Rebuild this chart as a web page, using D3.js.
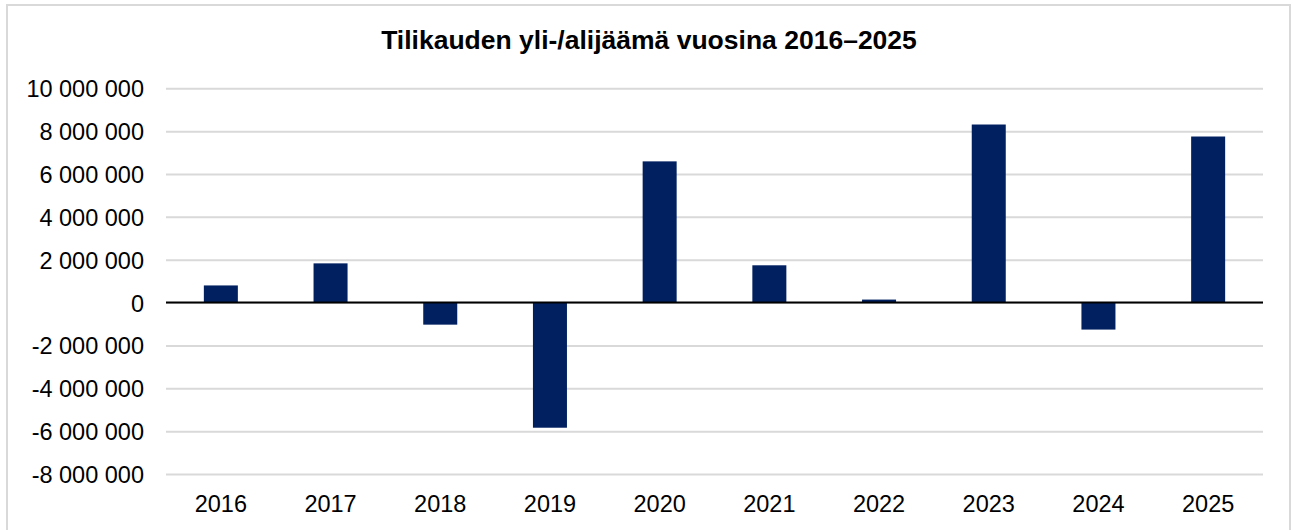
<!DOCTYPE html>
<html>
<head>
<meta charset="utf-8">
<script src="https://cdn.jsdelivr.net/npm/d3@7"></script>
<style>
  html, body { margin: 0; padding: 0; background: #fff; }
  svg { display: block; font-family: "Liberation Sans", Arial, sans-serif; }
</style>
</head>
<body>
<svg></svg>
<script>
// values
var years = ["2016", "2017", "2018", "2019", "2020", "2021", "2022", "2023", "2024", "2025"];
var surplus = [800000, 1830000, -1030000, -5840000, 6590000, 1740000, 140000, 8310000, -1260000, 7750000];
var yTicks = [-8000000, -6000000, -4000000, -2000000, 0, 2000000, 4000000, 6000000, 8000000, 10000000];
var title = "Tilikauden yli-/alijäämä vuosina 2016–2025";

var W = 1294, H = 530;
var plot = {left: 166, right: 1263, top: 88.3, bottom: 474};

var fi = d3.formatLocale({decimal: ",", thousands: "\u00a0", grouping: [3], currency: ["", " €"], minus: "-"});
var fmt = fi.format(",");

var svg = d3.select("svg").attr("width", W).attr("height", H);

// chart area border
svg.append("rect")
  .attr("x", 7).attr("y", 5)
  .attr("width", 1283).attr("height", 540)
  .attr("fill", "#fff")
  .attr("stroke", "#d9d9d9")
  .attr("stroke-width", 2);

svg.append("text")
  .attr("x", 649).attr("y", 49)
  .attr("text-anchor", "middle")
  .attr("font-size", 26.5)
  .attr("font-weight", "bold")
  .attr("fill", "#000")
  .text(title);

var x = d3.scaleBand()
  .domain(years)
  .range([plot.left, plot.right])
  .paddingInner(0.69)
  .paddingOuter(0.345);

var y = d3.scaleLinear()
  .domain([-8000000, 10000000])
  .range([plot.bottom, plot.top]);

// y axis + gridlines
var yAxis = svg.append("g")
  .attr("transform", "translate(" + plot.left + ",0)")
  .call(d3.axisLeft(y)
    .tickValues(yTicks)
    .tickSize(-(plot.right - plot.left))
    .tickPadding(22)
    .tickFormat(fmt));
yAxis.select(".domain").remove();
yAxis.selectAll(".tick line")
  .attr("stroke", "#d9d9d9")
  .attr("stroke-width", 2);
yAxis.selectAll(".tick text")
  .attr("font-size", 23.5)
  .attr("fill", "#000")
  .attr("font-family", "Liberation Sans, Arial, sans-serif")
  .attr("dy", "0.36em");

// bars
svg.append("g")
  .selectAll("rect")
  .data(surplus)
  .enter()
  .append("rect")
    .attr("x", (d, i) => x(years[i]))
    .attr("width", x.bandwidth())
    .attr("y", d => y(Math.max(0, d)))
    .attr("height", d => Math.abs(y(d) - y(0)))
    .attr("fill", "#002060");

// zero line on top of bars
svg.append("line")
  .attr("x1", plot.left).attr("x2", plot.right)
  .attr("y1", y(0)).attr("y2", y(0))
  .attr("stroke", "#000")
  .attr("stroke-width", 2);

// x axis labels
var xAxis = svg.append("g")
  .attr("transform", "translate(0," + plot.bottom + ")")
  .call(d3.axisBottom(x).tickSize(0).tickPadding(21));
xAxis.select(".domain").remove();
xAxis.selectAll(".tick text")
  .attr("font-size", 23.5)
  .attr("fill", "#000")
  .attr("font-family", "Liberation Sans, Arial, sans-serif");
</script>
</body>
</html>
